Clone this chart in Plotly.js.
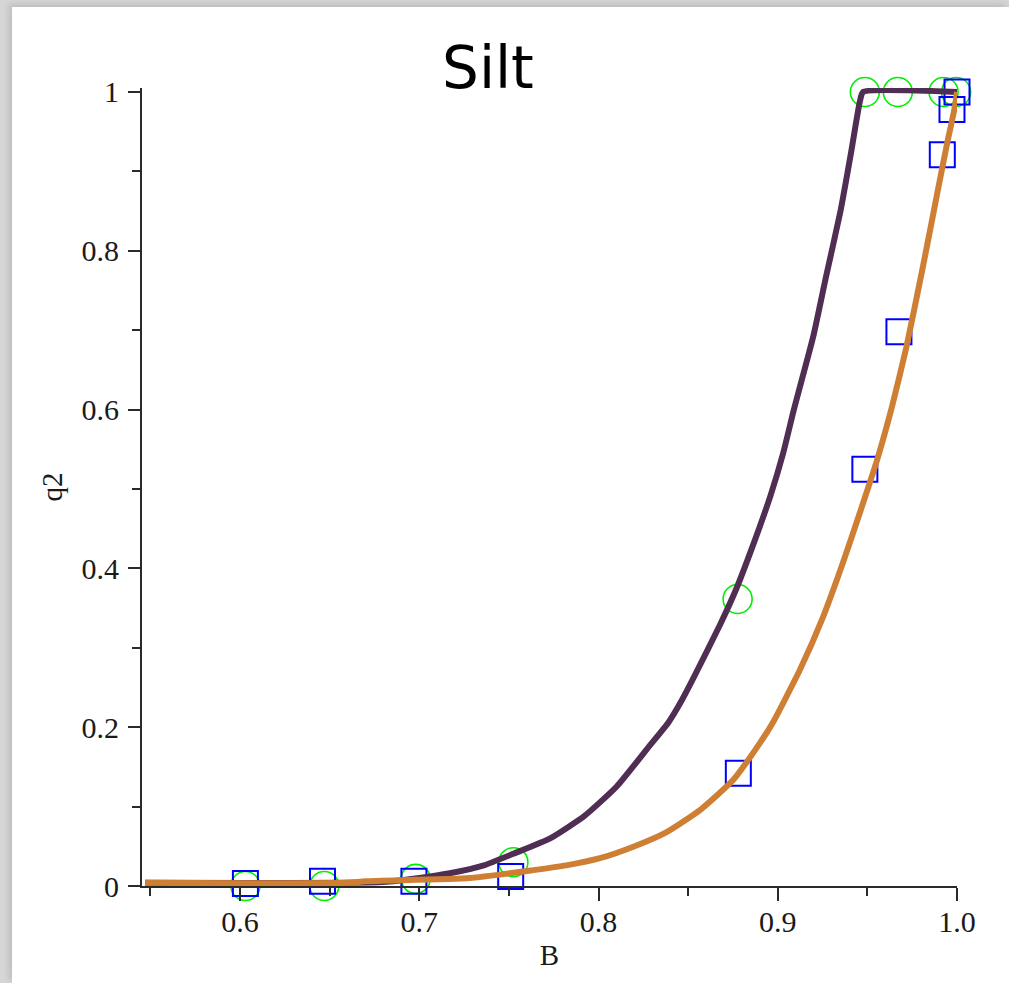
<!DOCTYPE html>
<html>
<head>
<meta charset="utf-8">
<script src="https://cdn.plot.ly/plotly-3.0.1.min.js"></script>
<style>
  html, body { margin: 0; padding: 0; }
  body { width: 1009px; height: 983px; background: #d6d6d6; position: relative; overflow: hidden; }
  #frame { position: absolute; left: 12px; top: 7px; width: 997px; height: 976px; background: #ffffff;
           box-shadow: -3px -3px 6px rgba(0,0,0,0.12); }
  #chart { width: 997px; height: 976px; }
</style>
</head>
<body>
<div id="frame"><div id="chart"></div></div>
<script>
// ---- data ----
const circleB  = [0.603, 0.647, 0.698, 0.7525, 0.8776, 0.9486, 0.967, 0.9925, 0.9995];
const circleQ2 = [0.0,   0.0,   0.009, 0.030,  0.3615, 1.0,    1.0,   1.0,    1.0];

const squareB  = [0.603, 0.646, 0.697, 0.751, 0.878, 0.9486, 0.9676, 0.9918, 0.9972, 1.0];
const squareQ2 = [0.003, 0.006, 0.006, 0.012, 0.142, 0.525,  0.698,  0.921,  0.978,  1.0];

const curve1B  = [0.547, 0.680, 0.700, 0.717, 0.736, 0.754, 0.773, 0.792, 0.810, 0.829, 0.839, 0.846,
                  0.853, 0.868, 0.877, 0.886, 0.896, 0.903, 0.909, 0.920, 0.927, 0.935, 0.941, 0.9458, 0.9476, 1.0];
const curve1Q2 = [0.004, 0.005, 0.010, 0.016, 0.026, 0.042, 0.060, 0.088, 0.125, 0.178, 0.206, 0.232,
                  0.262, 0.330, 0.375, 0.428, 0.492, 0.545, 0.600, 0.694, 0.768, 0.850, 0.925, 0.988, 1.0, 1.0];

const curve2B  = [0.547, 0.660, 0.670, 0.728, 0.7636, 0.782, 0.8008, 0.8194, 0.838, 0.8566, 0.8751, 0.890,
                  0.8973, 0.9123, 0.9253, 0.9365, 0.9458, 0.9551, 0.9639, 0.9718, 0.981, 0.9886, 0.9941, 0.9988, 1.0];
const curve2Q2 = [0.004, 0.004, 0.006, 0.010, 0.020,  0.026, 0.035,  0.0495, 0.068, 0.0957, 0.1335, 0.180,
                  0.206, 0.272,  0.339,  0.408,  0.470,  0.534,  0.605,  0.679,  0.780, 0.868,  0.931,  0.981,  1.0];

const xTickVals = [0.6, 0.7, 0.8, 0.9, 1.0];
const xTickText = ["0.6", "0.7", "0.8", "0.9", "1.0"];
const yTickVals = [0, 0.2, 0.4, 0.6, 0.8, 1];
const yTickText = ["0", "0.2", "0.4", "0.6", "0.8", "1"];

const serif = "Liberation Serif, Times New Roman, serif";
const axisColor = "#2a2a2a";

const traces = [
  { x: circleB, y: circleQ2, type: "scatter", mode: "markers", cliponaxis: false, showlegend: false,
    marker: { symbol: "circle-open", size: 29, color: "#00ee00", line: { width: 1.6, color: "#00ee00" } } },
  { x: squareB, y: squareQ2, type: "scatter", mode: "markers", cliponaxis: false, showlegend: false,
    marker: { symbol: "square-open", size: 25, color: "#0000ff", line: { width: 2, color: "#0000ff" } } },
  { x: curve1B, y: curve1Q2, type: "scatter", mode: "lines", showlegend: false,
    line: { color: "#502d52", width: 6, shape: "spline", smoothing: 0.5 } },
  { x: curve2B, y: curve2Q2, type: "scatter", mode: "lines", showlegend: false,
    line: { color: "#cf7f33", width: 6, shape: "spline", smoothing: 0.5 } }
];

const layout = {
  width: 997, height: 976,
  margin: { l: 130, r: 52, t: 81, b: 97 },
  paper_bgcolor: "#ffffff", plot_bgcolor: "#ffffff",
  showlegend: false,
  title: { text: "Silt", x: 0.4774, xanchor: "center", xref: "container",
           y: 0.9375, yanchor: "middle", yref: "container",
           font: { family: "DejaVu Sans, sans-serif", size: 58, color: "#000000" } },
  xaxis: {
    range: [0.5453, 1.0], showgrid: false, zeroline: false,
    showline: true, linecolor: axisColor, linewidth: 2,
    ticks: "outside", ticklen: 13, tickwidth: 2, tickcolor: axisColor,
    tickvals: xTickVals, ticktext: xTickText, ticklabelstandoff: -5,
    minor: { dtick: 0.05, tick0: 0.55, ticks: "outside", ticklen: 8, tickwidth: 2, tickcolor: axisColor, showgrid: false },
    tickfont: { family: serif, size: 30, color: "#1a1a1a" },
    title: { text: "B", font: { family: serif, size: 29, color: "#1a1a1a" }, standoff: 8 }
  },
  yaxis: {
    range: [0, 1.005], showgrid: false, zeroline: false,
    showline: true, linecolor: axisColor, linewidth: 2,
    ticks: "outside", ticklen: 12, tickwidth: 2, tickcolor: axisColor,
    tickvals: yTickVals, ticktext: yTickText, ticklabelstandoff: 3,
    minor: { dtick: 0.1, tick0: 0, ticks: "outside", ticklen: 8, tickwidth: 2, tickcolor: axisColor, showgrid: false },
    tickfont: { family: serif, size: 30, color: "#1a1a1a" },
    title: { text: "q2", font: { family: serif, size: 29, color: "#1a1a1a" }, standoff: 10 }
  }
};

Plotly.newPlot("chart", traces, layout, { staticPlot: true, displayModeBar: false });
</script>
</body>
</html>
